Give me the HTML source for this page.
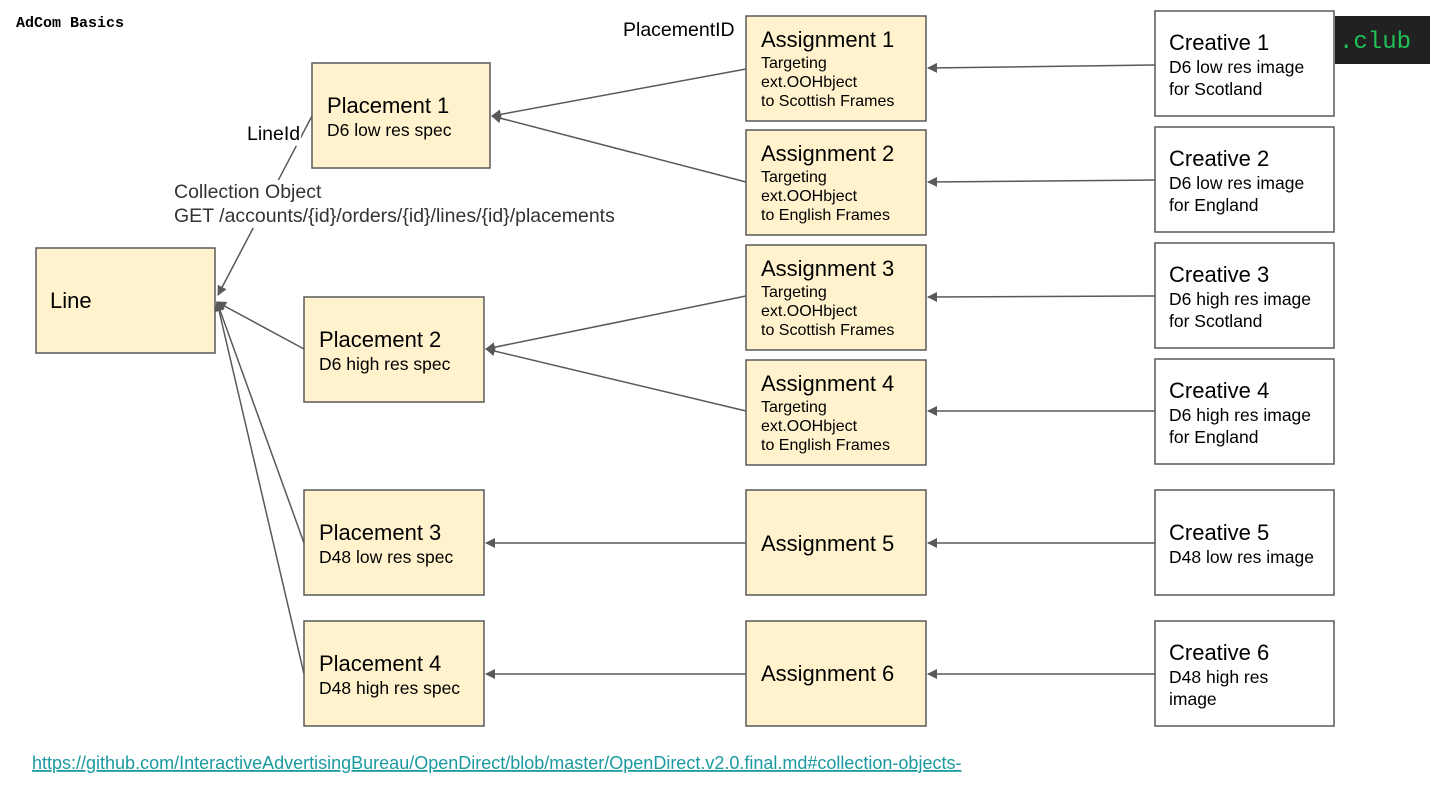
<!DOCTYPE html>
<html><head><style>
body{margin:0;background:#fff;}
svg{display:block;font-family:"Liberation Sans",Arial,sans-serif;}
</style></head><body>
<svg width="1440" height="810" viewBox="0 0 1440 810" xmlns="http://www.w3.org/2000/svg">
<defs><marker id="a" markerWidth="10" markerHeight="10" refX="9" refY="5" orient="auto" markerUnits="userSpaceOnUse"><path d="M0,0 L10,5 L0,10 z" fill="#595959"/></marker></defs>
<text x="16" y="27" font-family="Liberation Mono,monospace" font-weight="bold" font-size="15">AdCom Basics</text>
<rect x="1335" y="16" width="95" height="48" fill="#212121"/>
<text x="1339" y="48" font-family="Liberation Mono,monospace" font-size="24" fill="#1fc157">.club</text>
<g stroke="#595959" stroke-width="1.5" fill="none" marker-end="url(#a)">
<line x1="1155" y1="65" x2="928" y2="68"/>
<line x1="1155" y1="180" x2="928" y2="182"/>
<line x1="1155" y1="296" x2="928" y2="297"/>
<line x1="1155" y1="411" x2="928" y2="411"/>
<line x1="1155" y1="543" x2="928" y2="543"/>
<line x1="1155" y1="674" x2="928" y2="674"/>
<line x1="746" y1="69" x2="492" y2="116"/>
<line x1="746" y1="182" x2="492" y2="116"/>
<line x1="746" y1="296" x2="486" y2="349"/>
<line x1="746" y1="411" x2="486" y2="349"/>
<line x1="746" y1="543" x2="486" y2="543"/>
<line x1="746" y1="674" x2="486" y2="674"/>
<line x1="304" y1="349" x2="217" y2="302"/>
<line x1="304" y1="543" x2="217" y2="302"/>
<line x1="304" y1="674" x2="217" y2="302"/>
<line x1="312" y1="116" x2="218" y2="295"/>
</g>
<rect x="172" y="180" width="470" height="48" fill="#fff"/>
<rect x="245" y="122" width="56" height="24" fill="#fff"/>
<g fill="#fff2cc" stroke="#595959" stroke-width="1.5">
<rect x="36" y="248" width="179" height="105"/>
<rect x="312" y="63" width="178" height="105"/>
<rect x="304" y="297" width="180" height="105"/>
<rect x="304" y="490" width="180" height="105"/>
<rect x="304" y="621" width="180" height="105"/>
<rect x="746" y="16" width="180" height="105"/>
<rect x="746" y="130" width="180" height="105"/>
<rect x="746" y="245" width="180" height="105"/>
<rect x="746" y="360" width="180" height="105"/>
<rect x="746" y="490" width="180" height="105"/>
<rect x="746" y="621" width="180" height="105"/>
</g>
<g fill="#fff" stroke="#595959" stroke-width="1.5">
<rect x="1155" y="11" width="179" height="105"/>
<rect x="1155" y="127" width="179" height="105"/>
<rect x="1155" y="243" width="179" height="105"/>
<rect x="1155" y="359" width="179" height="105"/>
<rect x="1155" y="490" width="179" height="105"/>
<rect x="1155" y="621" width="179" height="105"/>
</g>
<g fill="#000">
<text x="50" y="308" font-size="22">Line</text>
<text x="327" y="113" font-size="22">Placement 1</text><text x="327" y="136" font-size="17.5">D6 low res spec</text>
<text x="319" y="347" font-size="22">Placement 2</text><text x="319" y="370" font-size="17.5">D6 high res spec</text>
<text x="319" y="540" font-size="22">Placement 3</text><text x="319" y="563" font-size="17.5">D48 low res spec</text>
<text x="319" y="671" font-size="22">Placement 4</text><text x="319" y="694" font-size="17.5">D48 high res spec</text>
<g font-size="16">
<text x="761" y="47" font-size="22">Assignment 1</text><text x="761" y="68">Targeting</text><text x="761" y="87">ext.OOHbject</text><text x="761" y="106">to Scottish Frames</text>
<text x="761" y="161" font-size="22">Assignment 2</text><text x="761" y="182">Targeting</text><text x="761" y="201">ext.OOHbject</text><text x="761" y="220">to English Frames</text>
<text x="761" y="276" font-size="22">Assignment 3</text><text x="761" y="297">Targeting</text><text x="761" y="316">ext.OOHbject</text><text x="761" y="335">to Scottish Frames</text>
<text x="761" y="391" font-size="22">Assignment 4</text><text x="761" y="412">Targeting</text><text x="761" y="431">ext.OOHbject</text><text x="761" y="450">to English Frames</text>
</g>
<text x="761" y="551" font-size="22">Assignment 5</text>
<text x="761" y="681" font-size="22">Assignment 6</text>
<g font-size="17.5">
<text x="1169" y="50" font-size="22">Creative 1</text><text x="1169" y="73">D6 low res image</text><text x="1169" y="95">for Scotland</text>
<text x="1169" y="166" font-size="22">Creative 2</text><text x="1169" y="189">D6 low res image</text><text x="1169" y="211">for England</text>
<text x="1169" y="282" font-size="22">Creative 3</text><text x="1169" y="305">D6 high res image</text><text x="1169" y="327">for Scotland</text>
<text x="1169" y="398" font-size="22">Creative 4</text><text x="1169" y="421">D6 high res image</text><text x="1169" y="443">for England</text>
<text x="1169" y="540" font-size="22">Creative 5</text><text x="1169" y="563">D48 low res image</text>
<text x="1169" y="660" font-size="22">Creative 6</text><text x="1169" y="683">D48 high res</text><text x="1169" y="705">image</text>
</g>
<text x="623" y="36" font-size="19.5">PlacementID</text>
<text x="247" y="140" font-size="19.5">LineId</text>
</g>
<text x="174" y="198" font-size="19.5" fill="#333">Collection Object</text>
<text x="174" y="222" font-size="19.5" fill="#333">GET /accounts/{id}/orders/{id}/lines/{id}/placements</text>
<text x="32" y="769" font-size="18" fill="#1a9aa0" text-decoration="underline">https://github.com/InteractiveAdvertisingBureau/OpenDirect/blob/master/OpenDirect.v2.0.final.md#collection-objects-</text>
</svg>
</body></html>
